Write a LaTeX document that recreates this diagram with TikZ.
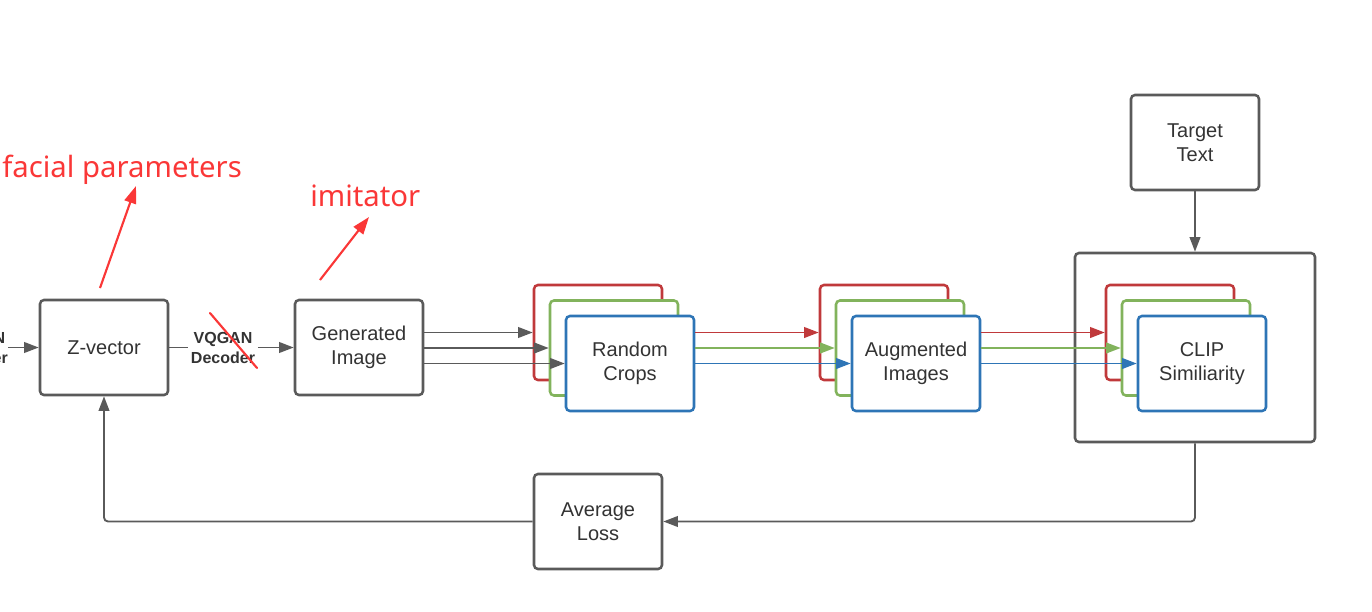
\documentclass[tikz,border=0pt]{standalone}
\usepackage{fontspec}
\setmainfont{Liberation Sans}
\newfontfamily\annofont{Noto Sans}
\usetikzlibrary{arrows.meta,calc}
\definecolor{bordergray}{RGB}{90,90,90}
\definecolor{txtgray}{RGB}{51,51,51}
\definecolor{stackred}{RGB}{192,57,59}
\definecolor{stackgreen}{RGB}{130,179,92}
\definecolor{stackblue}{RGB}{46,117,182}
\definecolor{annored}{RGB}{250,55,55}
\tikzset{
  box/.style={draw=bordergray, line width=1.9pt, rounded corners=3pt, fill=white,
    minimum width=96pt, minimum height=71.25pt, text=txtgray, align=center,
    font=\fontsize{15pt}{18pt}\selectfont, inner sep=0pt},
  redbox/.style={box, draw=stackred},
  greenbox/.style={box, draw=stackgreen},
  bluebox/.style={box, draw=stackblue},
  tip/.style={-{Triangle[length=11pt,width=8pt]}},
  conn/.style={draw=bordergray, line width=1.4pt, tip},
  plainconn/.style={draw=bordergray, line width=1.4pt},
  rline/.style={draw=stackred, line width=1.4pt, tip},
  gline/.style={draw=stackgreen, line width=1.4pt, tip},
  bline/.style={draw=stackblue, line width=1.4pt, tip},
  lbl/.style={font=\bfseries\fontsize{12pt}{15pt}\selectfont, text=txtgray, align=center, inner sep=0pt},
  anno/.style={text=annored, font=\annofont\fontsize{22pt}{26pt}\selectfont, inner sep=0pt},
  annoarrow/.style={draw=annored, line width=1.6pt, -{Triangle[length=13pt,width=9pt]}},
}
\begin{document}
\begin{tikzpicture}[x=0.75pt,y=-0.75pt]
\useasboundingbox (0,0) rectangle (1372,611);
% main boxes
\node[box] (zvec) at (104,347.5) {Z-vector};
\node[box] (gen) at (359,347.5) {Generated\\Image};
% random crops stack
\node[redbox] (cropR) at (598,332.5) {};
\node[greenbox] (cropG) at (614,348) {};
\node[bluebox] (cropB) at (630,363.5) {Random\\Crops};
% augmented stack
\node[redbox] (augR) at (884,332.5) {};
\node[greenbox] (augG) at (900,348) {};
\node[bluebox] (augB) at (916,363.5) {Augmented\\Images};
% clip outer
\node[box, minimum width=180pt, minimum height=141.75pt] (outer) at (1195,347.5) {};
\node[redbox] (clipR) at (1170,332.5) {};
\node[greenbox] (clipG) at (1186,348) {};
\node[bluebox] (clipB) at (1202,363.5) {CLIP\\Similiarity};
% target text & loss
\node[box] (tt) at (1195,142.5) {Target\\Text};
\node[box] (loss) at (598,521.5) {Average\\Loss};
% labels
\node[lbl, anchor=east] (enc) at (8,347.5) {VQGAN\\Encoder};
\node[lbl] (vq) at (223,347.5) {VQGAN\\Decoder};
% connectors
\draw[conn] (enc.east) -- (zvec.west);
\draw[plainconn] (zvec.east) -- ([xshift=-2pt]vq.west);
\draw[conn] ([xshift=2pt]vq.east) -- (gen.west);
\draw[conn] (gen.east |- cropR.west) -- (cropR.west);
\draw[conn] (gen.east |- cropG.west) -- (cropG.west);
\draw[conn] (gen.east |- cropB.west) -- (cropB.west);
\draw[rline] (cropB.east |- augR.west) -- (augR.west);
\draw[gline] (cropB.east |- augG.west) -- (augG.west);
\draw[bline] (cropB.east) -- (augB.west);
\draw[rline] (augB.east |- clipR.west) -- (clipR.west);
\draw[gline] (augB.east |- clipG.west) -- (clipG.west);
\draw[bline] (augB.east) -- (clipB.west);
\draw[conn] (tt.south) -- (outer.north);
\draw[conn, rounded corners=3pt] (outer.south) |- (loss.east);
\draw[conn, rounded corners=3pt] (loss.west) -| (zvec.south);
% annotations
\node[anno, anchor=west] (fp) at (2,170) {facial parameters};
\node[anno, anchor=west] (imi) at (310,196) {imitator};
\coordinate (fpa) at (100,288);
\coordinate (fpb) at (136,186);
\coordinate (ima) at (320,280);
\coordinate (imb) at (369,217);
\draw[annoarrow] (fpa) -- (fpb);
\draw[annoarrow] (ima) -- (imb);
\coordinate (s1) at (210,313);
\coordinate (s2) at (257,368);
\draw[draw=annored, line width=1.6pt, line cap=round] (s1) -- (s2);
\end{tikzpicture}
\end{document}
